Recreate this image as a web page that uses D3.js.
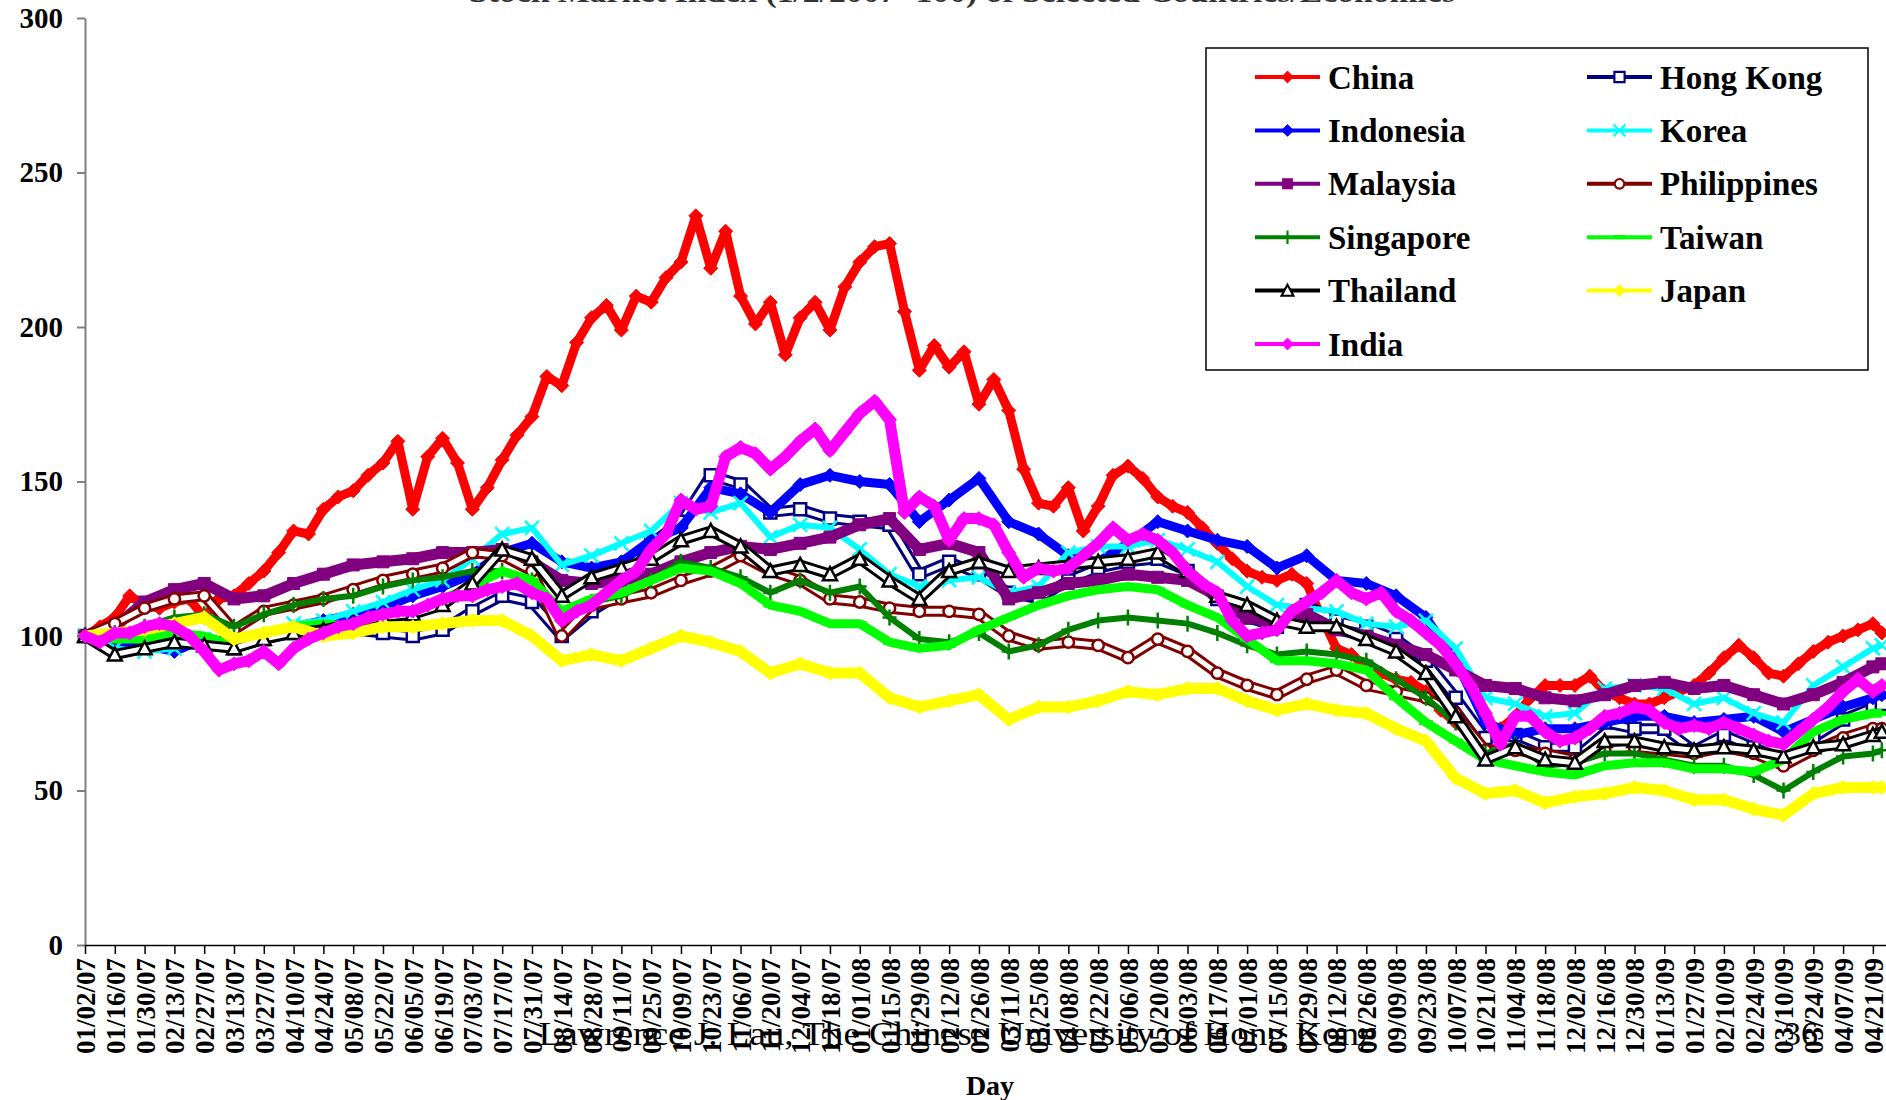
<!DOCTYPE html>
<html>
<head>
<meta charset="utf-8">
<script src="https://cdn.jsdelivr.net/npm/d3@7"></script>
<style>
  body { margin: 0; background: #fff; }
  svg { display: block; font-family: 'Liberation Serif', 'Times New Roman', serif; }
</style>
</head>
<body>
<div id="chart-container"></div>
<script>
const width = 1886
const height = 1100

// Category labels, one every 10 trading days
const tickLabels = ['01/02/07', '01/16/07', '01/30/07', '02/13/07', '02/27/07', '03/13/07', '03/27/07', '04/10/07',
    '04/24/07', '05/08/07', '05/22/07', '06/05/07', '06/19/07', '07/03/07', '07/17/07', '07/31/07', '08/14/07',
    '08/28/07', '09/11/07', '09/25/07', '10/09/07', '10/23/07', '11/06/07', '11/20/07', '12/04/07', '12/18/07',
    '01/01/08', '01/15/08', '01/29/08', '02/12/08', '02/26/08', '03/11/08', '03/25/08', '04/08/08', '04/22/08',
    '05/06/08', '05/20/08', '06/03/08', '06/17/08', '07/01/08', '07/15/08', '07/29/08', '08/12/08', '08/26/08',
    '09/09/08', '09/23/08', '10/07/08', '10/21/08', '11/04/08', '11/18/08', '12/02/08', '12/16/08', '12/30/08',
    '01/13/09', '01/27/09', '02/10/09', '02/24/09', '03/10/09', '03/24/09', '04/07/09', '04/21/09']

const countries = ['China', 'Hong Kong', 'Indonesia', 'Korea', 'Malaysia', 'Philippines',
    'Singapore', 'Taiwan', 'Thailand', 'Japan', 'India']

const china = [100, 103, 106, 113, 110, 109, 111, 112, 106, 112, 113, 117, 121, 127, 134, 133, 141, 145, 147, 152, 156,
    163, 141, 158, 164, 156, 141, 148, 157, 165, 171, 184, 181, 195, 203, 207, 199, 210, 208, 216,
    221, 236, 219, 231, 210, 201, 208, 191, 203, 208, 199, 213, 221, 226, 227, 205, 186, 194, 187, 192,
    175, 183, 173, 154, 143, 142, 148, 134, 142, 152, 155, 151, 145, 142, 140, 135,
    130, 125, 121, 119, 118, 120, 117, 106, 96, 94, 90, 88, 86, 85, 82, 76, 72, 68, 66, 70, 74, 80, 84, 84,
    84, 87, 82, 80, 78, 78, 80, 82, 84, 88, 93, 97, 93, 88, 87, 91, 95, 98, 100, 102, 104, 101]
const india = [100, 98, 101, 101, 103, 104, 103, 100, 95, 89, 91, 92, 95, 91, 96, 99, 101, 103, 104, 106, 107,
    108, 108, 110, 112, 113, 113, 115, 116, 117, 114, 112, 105, 108, 110, 114, 118, 121, 128, 133,
    144, 141, 142, 158, 161, 159, 154, 158, 163, 167, 160, 166, 172, 176, 170, 140, 145, 142, 131, 138,
    138, 136, 127, 119, 122, 121, 122, 126, 130, 135, 131, 133, 131, 127, 121, 117,
    114, 105, 100, 101, 102, 108, 111, 114, 118, 114, 112, 114, 108, 105, 101, 97, 91, 84, 75, 65, 74, 74, 69, 66,
    67, 70, 74, 75, 77, 76, 72, 70, 71, 70, 72, 70, 68, 66, 65, 69, 73, 77, 82, 86, 82, 84]

const hongKong = [100, 101, 101, 102, 98, 96, 99, 101, 101, 102, 101, 100, 102, 108, 113, 111, 100, 108, 114, 130,
    137, 152, 149, 140, 141, 138, 137, 136, 120, 124, 120, 114, 112, 118, 122, 124, 125, 121, 112, 106,
    103, 110, 105, 103, 99, 92, 80, 67, 68, 64, 64, 72, 70, 70, 63, 68, 64, 60, 67, 73, 77, 78]
const indonesia = [100, 98, 97, 95, 99, 98, 100, 103, 105, 107, 109, 113, 116, 120, 127, 130, 124, 122, 124, 131,
    135, 148, 146, 140, 149, 152, 150, 149, 137, 144, 151, 137, 133, 126, 124, 130, 137, 134, 131, 129,
    122, 126, 118, 117, 113, 106, 92, 72, 68, 70, 70, 72, 74, 74, 72, 73, 74, 69, 73, 77, 80, 81]
const korea = [100, 96, 95, 96, 99, 98, 100, 104, 105, 108, 111, 115, 118, 125, 133, 135, 123, 126, 130, 134,
    143, 140, 143, 132, 136, 135, 128, 120, 116, 118, 119, 114, 116, 127, 129, 129, 131, 128, 124, 116,
    110, 109, 108, 104, 103, 105, 96, 80, 78, 74, 75, 83, 84, 83, 78, 80, 75, 72, 84, 90, 96, 97]
const malaysia = [100, 103, 111, 115, 117, 112, 113, 117, 120, 123, 124, 125, 127, 127, 128, 124, 118, 117, 118, 120,
    124, 127, 129, 128, 130, 132, 136, 138, 128, 130, 127, 112, 114, 117, 118, 120, 119, 118, 113, 106,
    104, 107, 102, 100, 97, 94, 89, 84, 83, 80, 79, 81, 84, 85, 83, 84, 81, 78, 81, 85, 90, 91]
const philippines = [100, 104, 109, 112, 113, 102, 108, 110, 112, 115, 118, 120, 122, 127, 126, 121, 100, 110, 112, 114,
    118, 121, 126, 121, 118, 112, 111, 109, 108, 108, 107, 100, 97, 98, 97, 93, 99, 95, 88, 84,
    81, 86, 89, 84, 82, 80, 75, 63, 63, 62, 60, 63, 64, 63, 62, 64, 62, 58, 63, 67, 70, 70]
const singapore = [100, 101, 103, 106, 107, 103, 107, 110, 112, 113, 116, 118, 119, 121, 121, 118, 106, 111, 113, 118,
    124, 122, 119, 114, 118, 114, 116, 106, 99, 98, 101, 95, 97, 102, 105, 106, 105, 104, 101, 97,
    94, 95, 94, 92, 86, 80, 72, 62, 65, 58, 59, 62, 62, 60, 58, 58, 55, 50, 56, 61, 62, 63]
const taiwan = [100, 99, 99, 101, 100, 97, 100, 103, 104, 103, 106, 108, 112, 116, 121, 118, 108, 112, 114, 118,
    122, 121, 117, 110, 108, 104, 104, 98, 96, 97, 102, 106, 110, 113, 115, 116, 115, 110, 106, 99,
    92, 92, 91, 89, 80, 72, 66, 60, 58, 56, 55, 58, 59, 59, 57, 57, 56, 60, 69, 73, 75, 75]
const thailand = [100, 94, 96, 98, 97, 96, 99, 101, 102, 104, 106, 107, 110, 117, 128, 125, 113, 119, 122, 125,
    131, 134, 129, 121, 123, 120, 125, 118, 112, 121, 124, 121, 122, 123, 124, 125, 127, 121, 113, 110,
    105, 103, 103, 99, 95, 88, 74, 60, 64, 60, 59, 66, 66, 64, 63, 64, 63, 61, 64, 65, 68, 69]
const japan = [100, 101, 102, 104, 106, 99, 101, 103, 100, 101, 103, 103, 104, 105, 105, 100, 92, 94, 92, 96,
    100, 98, 95, 88, 91, 88, 88, 80, 77, 79, 81, 73, 77, 77, 79, 82, 81, 83, 83, 79,
    76, 78, 76, 75, 70, 66, 54, 49, 50, 46, 48, 49, 51, 50, 47, 47, 44, 42, 49, 51, 51, 51]

const weeklyDays = d3.range(0, 601, 5).concat([603])
const biweeklyDays = d3.range(0, 601, 10).concat([603])

const seriesValues = {
    'China': china, 'Hong Kong': hongKong, 'Indonesia': indonesia, 'Korea': korea, 'Malaysia': malaysia,
    'Philippines': philippines, 'Singapore': singapore, 'Taiwan': taiwan, 'Thailand': thailand,
    'Japan': japan, 'India': india
}

// Look of each series (Excel line with markers; the dense daily markers read as a thick band)
const markerPaths = {
    diamond: 'M0,-7L7,0L0,7L-7,0Z',
    square: 'M-6,-6H6V6H-6Z',
    cross: 'M-7,-7L7,7M-7,7L7,-7',
    plus: 'M-7,0H7M0,-8V8',
    circle: d3.symbol(d3.symbolCircle, 100)(),
    triangle: 'M0,-7L7,6H-7Z',
    dash: 'M-7,0H7'
}
const seriesStyle = {
    'China':       { color: '#ff0000', width: 9, marker: 'diamond', fill: '#ff0000' },
    'Hong Kong':   { color: '#000080', width: 11, inner: 5, marker: 'square', fill: '#ffffff', mw: 2.5 },
    'Indonesia':   { color: '#0000ff', width: 9, marker: 'diamond', fill: '#0000ff' },
    'Korea':       { color: '#00ffff', width: 6, marker: 'cross', fill: 'none', mw: 2.5 },
    'Malaysia':    { color: '#800080', width: 11, marker: 'square', fill: '#800080' },
    'Philippines': { color: '#800000', width: 11, inner: 5, marker: 'circle', fill: '#ffffff', mw: 2.5 },
    'Singapore':   { color: '#008000', width: 6, marker: 'plus', fill: 'none', mw: 2.5 },
    'Taiwan':      { color: '#00ff00', width: 9, marker: 'dash', fill: 'none', mw: 5 },
    'Thailand':    { color: '#000000', width: 11, inner: 5, marker: 'triangle', fill: '#ffffff', mw: 2.5 },
    'Japan':       { color: '#ffff00', width: 11, marker: 'diamond', fill: '#ffff00' },
    'India':       { color: '#ff00ff', width: 11, marker: 'diamond', fill: '#ff00ff' }
}

const series = countries.map(name => {
    const values = seriesValues[name]
    const days = values.length === weeklyDays.length ? weeklyDays : biweeklyDays
    return { name, points: values.map((v, i) => ({ day: days[i], value: v })) }
})

// Scales
const xScale = d3.scaleLinear().domain([0, 604.4]).range([85, 1886])
const yScale = d3.scaleLinear().domain([0, 300]).range([945, 18])

const svg = d3.select('#chart-container')
    .append('svg')
    .attr('width', width)
    .attr('height', height)

svg.append('rect').attr('width', width).attr('height', height).attr('fill', '#fff')

// Title, mostly cut off at the top edge
svg.append('text')
    .attr('x', 962)
    .attr('y', 1.5)
    .attr('text-anchor', 'middle')
    .attr('font-size', 30)
    .attr('font-weight', 'bold')
    .attr('fill', '#333')
    .attr('textLength', 986)
    .attr('lengthAdjust', 'spacingAndGlyphs')
    .text('Stock Market Index (1/2/2007=100) of Selected Countries/Economies')

// Axes
const yAxis = d3.axisLeft(yScale)
    .tickValues(d3.range(0, 301, 50))
    .tickSize(8)
    .tickPadding(14)
    .tickSizeOuter(0)
svg.append('g')
    .attr('transform', 'translate(' + xScale(0) + ',0)')
    .call(yAxis)
    .call(g => g.selectAll('.domain, line').attr('stroke', '#808080').attr('stroke-width', 2))
    .call(g => g.selectAll('text').attr('font-size', 29).attr('font-weight', 'bold')
        .attr('font-family', "'Liberation Serif', serif").attr('fill', '#000'))

const xAxis = d3.axisBottom(xScale)
    .tickValues(d3.range(0, 601, 10))
    .tickFormat((d, i) => tickLabels[i])
    .tickSize(9)
    .tickSizeOuter(0)
svg.append('g')
    .attr('transform', 'translate(0,' + yScale(0) + ')')
    .call(xAxis)
    .call(g => g.selectAll('.domain, line').attr('stroke', '#000').attr('stroke-width', 1.5))
    .call(g => g.selectAll('text')
        .attr('transform', 'rotate(-90)')
        .attr('x', -13)
        .attr('y', 0)
        .attr('dy', '0.35em')
        .attr('text-anchor', 'end')
        .attr('font-size', 27)
        .attr('font-weight', 'bold')
        .attr('font-family', "'Liberation Serif', serif")
        .attr('fill', '#000'))

svg.append('text')
    .attr('x', 990)
    .attr('y', 1095)
    .attr('text-anchor', 'middle')
    .attr('font-size', 28)
    .attr('font-weight', 'bold')
    .text('Day')

// Lines and markers, drawn series by series like Excel
const line = d3.line()
    .x(d => xScale(d.day))
    .y(d => yScale(d.value))

series.forEach(s => {
    const st = seriesStyle[s.name]
    const g = svg.append('g').attr('class', 'series')
    g.append('path')
        .datum(s.points)
        .attr('d', line)
        .attr('fill', 'none')
        .attr('stroke', st.color)
        .attr('stroke-width', st.width)
        .attr('stroke-linejoin', 'round')
    // hollow markers: white core inside the coloured band
    if (st.inner) {
        g.append('path')
            .datum(s.points)
            .attr('d', line)
            .attr('fill', 'none')
            .attr('stroke', '#fff')
            .attr('stroke-width', st.inner)
            .attr('stroke-linejoin', 'round')
    }
    g.selectAll('.marker')
        .data(s.points)
        .enter()
        .append('path')
        .attr('class', 'marker')
        .attr('transform', d => 'translate(' + xScale(d.day) + ',' + yScale(d.value) + ')')
        .attr('d', markerPaths[st.marker])
        .attr('fill', st.fill)
        .attr('stroke', st.color)
        .attr('stroke-width', st.mw || 1)
})

// Legend
const legendOrder = ['China', 'Hong Kong', 'Indonesia', 'Korea', 'Malaysia', 'Philippines',
    'Singapore', 'Taiwan', 'Thailand', 'Japan', 'India']
const legend = svg.append('g').attr('id', 'legend')
legend.append('rect')
    .attr('x', 1206)
    .attr('y', 48)
    .attr('width', 662)
    .attr('height', 322)
    .attr('fill', '#fff')
    .attr('stroke', '#000')
    .attr('stroke-width', 1.5)

const legendItems = legend.selectAll('.legend-item')
    .data(legendOrder)
    .enter()
    .append('g')
    .attr('class', 'legend-item')
    .attr('transform', (d, i) => 'translate(' + (i % 2 === 0 ? 1255 : 1587) + ',' + (77 + Math.floor(i / 2) * 53.4) + ')')

legendItems.append('line')
    .attr('x1', 0)
    .attr('x2', 65)
    .attr('stroke', d => seriesStyle[d].color)
    .attr('stroke-width', 4)
legendItems.append('path')
    .attr('transform', 'translate(32.5,0) scale(0.85)')
    .attr('d', d => markerPaths[seriesStyle[d].marker])
    .attr('fill', d => seriesStyle[d].fill)
    .attr('stroke', d => seriesStyle[d].color)
    .attr('stroke-width', d => seriesStyle[d].mw || 1)
legendItems.append('text')
    .attr('x', 73)
    .attr('dy', '0.35em')
    .attr('font-size', 33)
    .attr('font-weight', 'bold')
    .text(d => d)

// Footer of the slide, overlapping the tick labels
svg.append('text')
    .attr('x', 958)
    .attr('y', 1045)
    .attr('text-anchor', 'middle')
    .attr('font-size', 34)
    .attr('textLength', 839)
    .attr('lengthAdjust', 'spacingAndGlyphs')
    .text('Lawrence J. Lau, The Chinese University of Hong Kong')
svg.append('text')
    .attr('x', 1801)
    .attr('y', 1045)
    .attr('text-anchor', 'middle')
    .attr('font-size', 34)
    .text('36')
</script>
</body>
</html>
